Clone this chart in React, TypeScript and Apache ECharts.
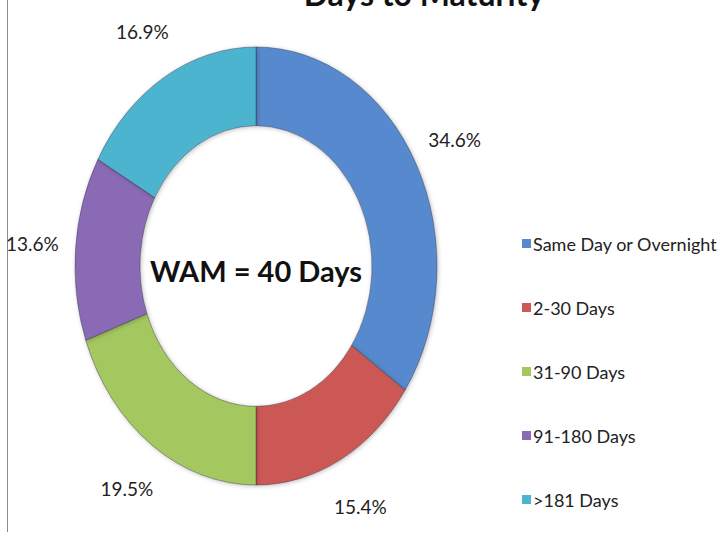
import React, { useEffect, useRef } from "react";
import * as echarts from "echarts";

const titleText = "Days to Maturity";
const centerText = "WAM = 40 Days";
const categories = [
  "Same Day or Overnight",
  "2-30 Days",
  "31-90 Days",
  "91-180 Days",
  ">181 Days",
];
const shares = [34.6, 15.4, 19.5, 13.6, 16.9];
const colors = ["#5789CD", "#CC5955", "#A4C760", "#8A6BB5", "#4DB4D0"];

const CX = 256;
const CY = 266;
const RX = 181;
const RX_IN = 116;
const SCALE_Y = 1.21;
const LABEL_FACTOR = 1.24;
const FONT = "Lato, 'Open Sans', sans-serif";

export default function App() {
  const ref = useRef<HTMLDivElement>(null);

  useEffect(() => {
    if (!ref.current) return;
    const chart = echarts.init(ref.current, null, { renderer: "svg" });
    const total = shares.reduce((a, b) => a + b, 0);

    const series = categories.map((name, i) => {
      const before = shares.slice(0, i).reduce((a, b) => a + b, 0);
      return {
        type: "custom",
        name,
        coordinateSystem: "none",
        silent: true,
        itemStyle: { color: colors[i] },
        data: [[shares[i]]],
        renderItem: (params: any, api: any) => {
          const v = api.value(0);
          const start = -Math.PI / 2 + (2 * Math.PI * before) / total;
          const end = start + (2 * Math.PI * v) / total;
          const mid = (start + end) / 2;
          const lx = CX + LABEL_FACTOR * RX * Math.cos(mid);
          const ly = CY + LABEL_FACTOR * RX * SCALE_Y * Math.sin(mid);
          return {
            type: "group",
            children: [
              {
                type: "sector",
                x: CX,
                y: CY,
                scaleY: SCALE_Y,
                shape: {
                  cx: 0,
                  cy: 0,
                  r: RX,
                  r0: RX_IN,
                  startAngle: start,
                  endAngle: end,
                  clockwise: true,
                },
                style: {
                  fill: api.visual("color"),
                  stroke: "rgba(40,40,60,0.45)",
                  lineWidth: 0.8,
                  shadowBlur: 4,
                  shadowColor: "rgba(0,0,0,0.25)",
                  shadowOffsetX: 1,
                  shadowOffsetY: 1,
                },
              },
              {
                type: "text",
                x: lx,
                y: ly,
                style: {
                  text: v.toFixed(1) + "%",
                  align: "center",
                  verticalAlign: "middle",
                  fill: "#222",
                  font: `19px ${FONT}`,
                },
              },
            ],
          };
        },
      };
    });

    chart.setOption({
      animation: false,
      backgroundColor: "#ffffff",
      legend: {
        orient: "vertical",
        left: 517,
        top: 229,
        icon: "rect",
        itemWidth: 9,
        itemHeight: 9,
        itemGap: 45,
        data: categories,
        textStyle: {
          fontFamily: FONT,
          fontSize: 18,
          lineHeight: 19,
          color: "#222",
          padding: [0, 0, 0, -3],
        },
      },
      graphic: [
        {
          type: "line",
          shape: { x1: 7.5, y1: 0, x2: 7.5, y2: 532 },
          style: { stroke: "#8a8a8a", lineWidth: 1 },
        },
        {
          type: "text",
          x: 424,
          y: -7,
          style: {
            text: titleText,
            align: "center",
            verticalAlign: "middle",
            fill: "#111",
            font: `bold 32px ${FONT}`,
          },
        },
        {
          type: "text",
          x: CX,
          y: 270,
          style: {
            text: centerText,
            align: "center",
            verticalAlign: "middle",
            fill: "#111",
            font: `bold 29px ${FONT}`,
          },
        },
      ],
      series,
    } as any);

    return () => chart.dispose();
  }, []);

  return (
    <div
      ref={ref}
      style={{
        position: "absolute",
        left: 0,
        top: 0,
        width: 726,
        height: 539,
        background: "#fff",
      }}
    />
  );
}
